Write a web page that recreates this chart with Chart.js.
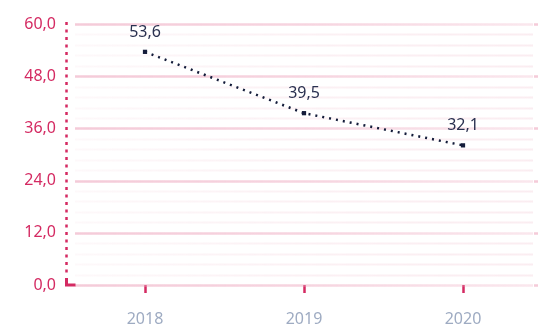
<!DOCTYPE html>
<html>
<head>
<meta charset="utf-8">
<script src="https://cdn.jsdelivr.net/npm/chart.js@4"></script>
<style>
  html, body { margin: 0; padding: 0; background: #ffffff; }
  #wrap { width: 538px; height: 330px; position: relative; }
</style>
</head>
<body>
<div id="wrap"><canvas id="chart" width="538" height="330"></canvas></div>
<script>
// Years and values of the series
const years = ['2018', '2019', '2020'];
const values = [53.6, 39.5, 32.1];
// Y axis range and step
const yMin = 0;
const yMax = 60;
const yStep = 12;

const crimson = '#d42a62';
const navy = '#141c3a';
const fmt = v => v.toFixed(1).replace('.', ',');

// Let the category band run a little past the right canvas edge
const widenX = {
  id: 'widenX',
  afterLayout(chart) {
    const x = chart.scales.x;
    x.left = 65.5;
    x.right = 542.5;
    x.width = x.right - x.left;
    x.configure();
  }
};

// Horizontal guide lines, dotted value axis and origin corner
const guideLines = {
  id: 'guideLines',
  beforeDatasetsDraw(chart) {
    const { ctx, chartArea, scales } = chart;
    const y = scales.y;
    const x0 = chartArea.left + 8;
    const x1 = chart.width - 5;
    ctx.save();
    for (let v = yMin; v <= yMax + 1e-9; v += yStep / 5) {
      const py = Math.round(y.getPixelForValue(v)) + 0.5;
      const major = Math.abs(v / yStep - Math.round(v / yStep)) < 1e-6;
      const g = ctx.createLinearGradient(x0, 0, x1, 0);
      if (major) {
        g.addColorStop(0, 'rgba(236,160,185,0.55)');
        g.addColorStop(0.5, 'rgba(236,160,185,0.45)');
        g.addColorStop(1, 'rgba(236,160,185,0.25)');
        ctx.lineWidth = 2.5;
      } else {
        g.addColorStop(0, 'rgba(240,190,205,0.10)');
        g.addColorStop(0.5, 'rgba(240,190,205,0.22)');
        g.addColorStop(1, 'rgba(240,190,205,0.28)');
        ctx.lineWidth = 2;
      }
      ctx.strokeStyle = g;
      ctx.beginPath();
      ctx.moveTo(x0, py);
      ctx.lineTo(x1, py);
      ctx.stroke();
      if (major) {
        ctx.strokeStyle = 'rgba(236,160,185,0.55)';
        ctx.beginPath();
        ctx.moveTo(x1 + 1, py);
        ctx.lineTo(chart.width, py);
        ctx.stroke();
      }
    }
    const ax = chartArea.left - 0.5;
    const top = Math.round(y.getPixelForValue(yMax)) - 2;
    const oy = Math.round(y.getPixelForValue(yMin));
    // dotted value axis
    ctx.strokeStyle = crimson;
    ctx.lineWidth = 2.5;
    ctx.setLineDash([3, 4.5]);
    ctx.beginPath();
    ctx.moveTo(ax, top);
    ctx.lineTo(ax, oy - 9);
    ctx.stroke();
    ctx.setLineDash([]);
    // corner mark at the axis origin
    ctx.lineWidth = 3;
    ctx.beginPath();
    ctx.moveTo(ax, oy - 7);
    ctx.lineTo(ax, oy);
    ctx.lineTo(ax + 9, oy);
    ctx.stroke();
    ctx.restore();
  }
};

// Value labels above each point
const valueLabels = {
  id: 'valueLabels',
  afterDatasetsDraw(chart) {
    const { ctx } = chart;
    const meta = chart.getDatasetMeta(0);
    ctx.save();
    ctx.font = '16px "Noto Sans", sans-serif';
    ctx.fillStyle = '#2a3150';
    ctx.textAlign = 'center';
    ctx.textBaseline = 'alphabetic';
    meta.data.forEach((pt, i) => {
      ctx.fillText(fmt(values[i]), pt.x, pt.y - 15);
    });
    ctx.restore();
  }
};

new Chart(document.getElementById('chart'), {
  type: 'line',
  data: {
    labels: years,
    datasets: [{
      data: values,
      borderColor: navy,
      borderWidth: 2.5,
      borderDash: [2, 5],
      fill: false,
      tension: 0,
      pointStyle: 'rect',
      pointRadius: 3,
      pointBackgroundColor: navy,
      pointBorderColor: navy,
      pointBorderWidth: 0,
      clip: false
    }]
  },
  options: {
    responsive: false,
    animation: false,
    events: [],
    layout: { padding: { top: 24, right: 0, bottom: 0, left: 0 } },
    plugins: { legend: { display: false }, tooltip: { enabled: false } },
    scales: {
      x: {
        offset: true,
        grid: {
          display: true,
          offset: false,
          drawOnChartArea: false,
          drawTicks: true,
          tickLength: 8,
          tickWidth: 2.5,
          tickColor: crimson,
          color: crimson
        },
        border: { display: false },
        ticks: {
          color: '#9eabc2',
          font: { family: '"Noto Sans", sans-serif', size: 16 },
          padding: 17
        },
        afterFit(scale) { scale.height = 45; }
      },
      y: {
        min: yMin,
        max: yMax,
        grid: { display: false, drawTicks: false },
        border: { display: false },
        ticks: {
          stepSize: yStep,
          color: crimson,
          font: { family: '"Noto Sans", sans-serif', size: 16 },
          padding: 11,
          callback: v => fmt(v)
        },
        afterFit(scale) { scale.width = 67; }
      }
    }
  },
  plugins: [widenX, guideLines, valueLabels]
});
</script>
</body>
</html>
